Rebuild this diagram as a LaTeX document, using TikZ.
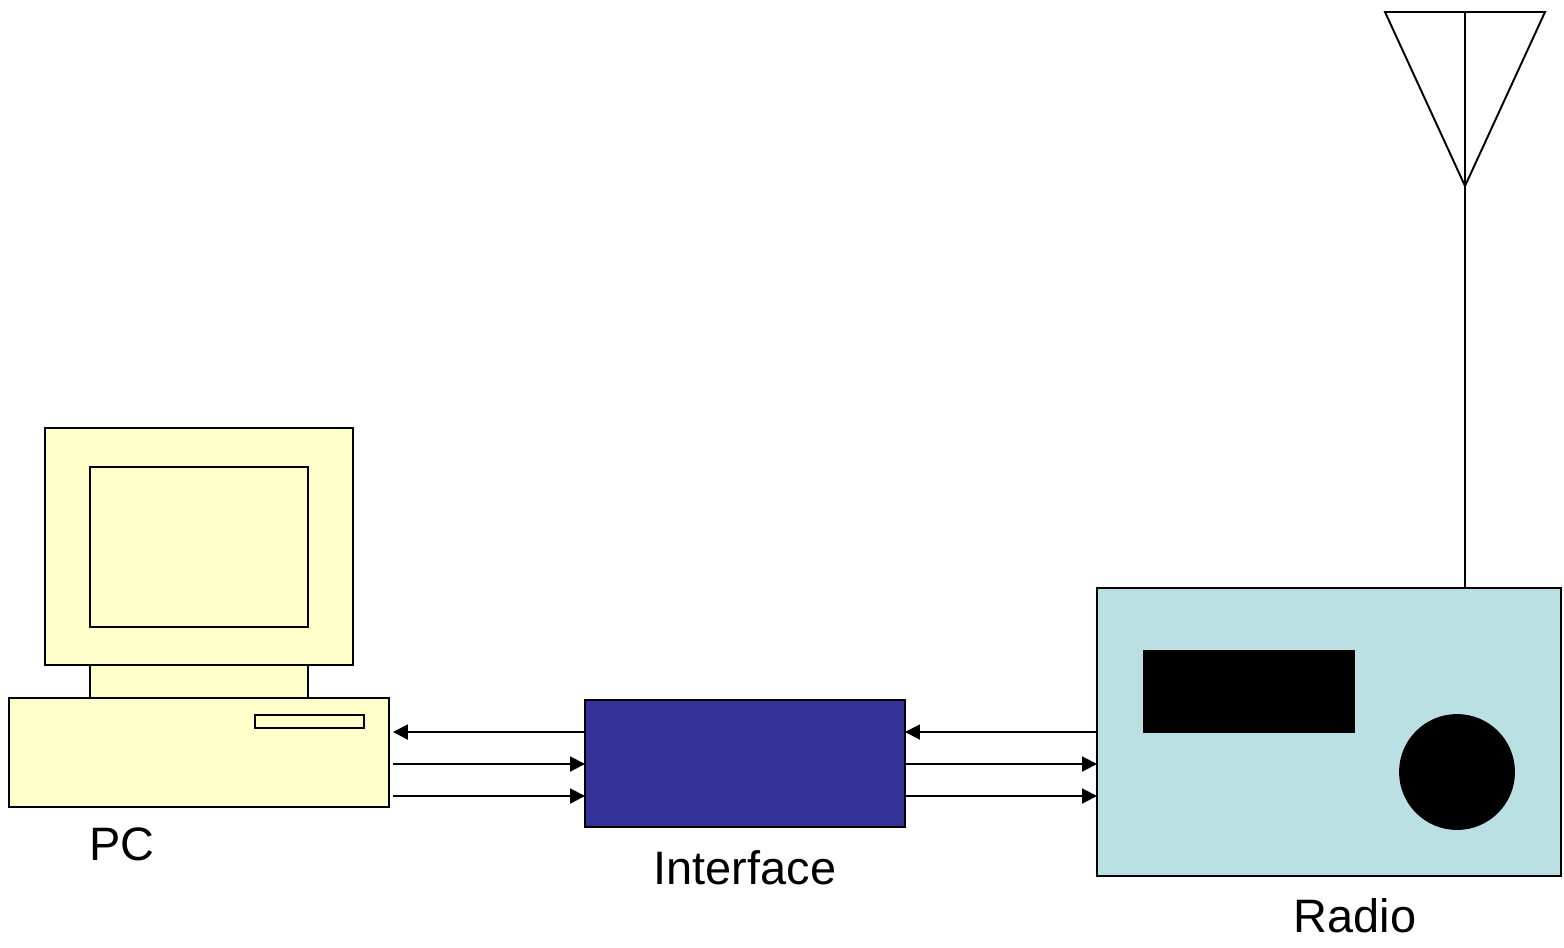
\documentclass[tikz,border=0pt]{standalone}
\usepackage{fontspec}
\setmainfont{Liberation Sans}
\usetikzlibrary{arrows.meta}
\definecolor{pcyellow}{HTML}{FFFFCC}
\definecolor{intblue}{HTML}{333399}
\definecolor{radiocyan}{HTML}{BBE0E3}
\tikzset{box/.style={draw,line width=1.1pt,inner sep=0pt,outer sep=0pt},
	lbl/.style={font=\fontsize{26.7}{32}\selectfont,anchor=base}}
\begin{document}
\begin{tikzpicture}[>={Triangle[length=0.3cm,width=0.3cm]},x=0.02cm,y=-0.02cm,line width=1.1pt]
			\useasboundingbox (0,0) rectangle (1564,947);
			% PC
			\node[box,fill=pcyellow,minimum width=4.36cm,minimum height=0.66cm] (stand) at (199,681.5) {};
			\node[box,fill=pcyellow,minimum width=6.16cm,minimum height=4.74cm] (monitor) at (199,546.5) {};
			\node[box,fill=pcyellow,minimum width=4.36cm,minimum height=3.2cm] (screen) at (199,547) {};
			\node[box,fill=pcyellow,minimum width=7.6cm,minimum height=2.18cm] (pcbase) at (199,752.5) {};
			\node[box,fill=pcyellow,minimum width=2.18cm,minimum height=0.26cm] (slot) at (309.5,721.5) {};
			\node[lbl] (pclbl) at (122,860) {PC};
			% interface
			\node[box,fill=intblue,minimum width=6.4cm,minimum height=2.54cm] (intf) at (745,763.5) {};
			\node[lbl] (intflbl) at (745,884) {Interface};
			% radio
			\node[box,fill=radiocyan,minimum width=9.28cm,minimum height=5.76cm] (radio) at (1329,732) {};
			\node[box,fill=black,minimum width=4.2cm,minimum height=1.62cm] (display) at (1249,691.5) {};
			\node[box,fill=black,circle,minimum size=2.28cm] (knob) at (1457,772) {};
			\node[lbl] (radiolbl) at (1355,932) {Radio};
			% antenna
			\coordinate (tip) at (1465,12);
			\draw (1385,12)--(1545,12)--(1465,186)--cycle;
			\draw (tip |- radio.north)--(tip);
			% links
			\draw[->,shorten >=0.08cm] (intf.west |- 0,732)--(pcbase.east |- 0,732);
			\draw[->] (radio.west |- 0,732)--(intf.east |- 0,732);
			\foreach \y in {764,796}{
				\draw[->,shorten <=0.08cm] (pcbase.east |- 0,\y)--(intf.west |- 0,\y);
				\draw[->] (intf.east |- 0,\y)--(radio.west |- 0,\y);
			}
		\end{tikzpicture}
\end{document}
